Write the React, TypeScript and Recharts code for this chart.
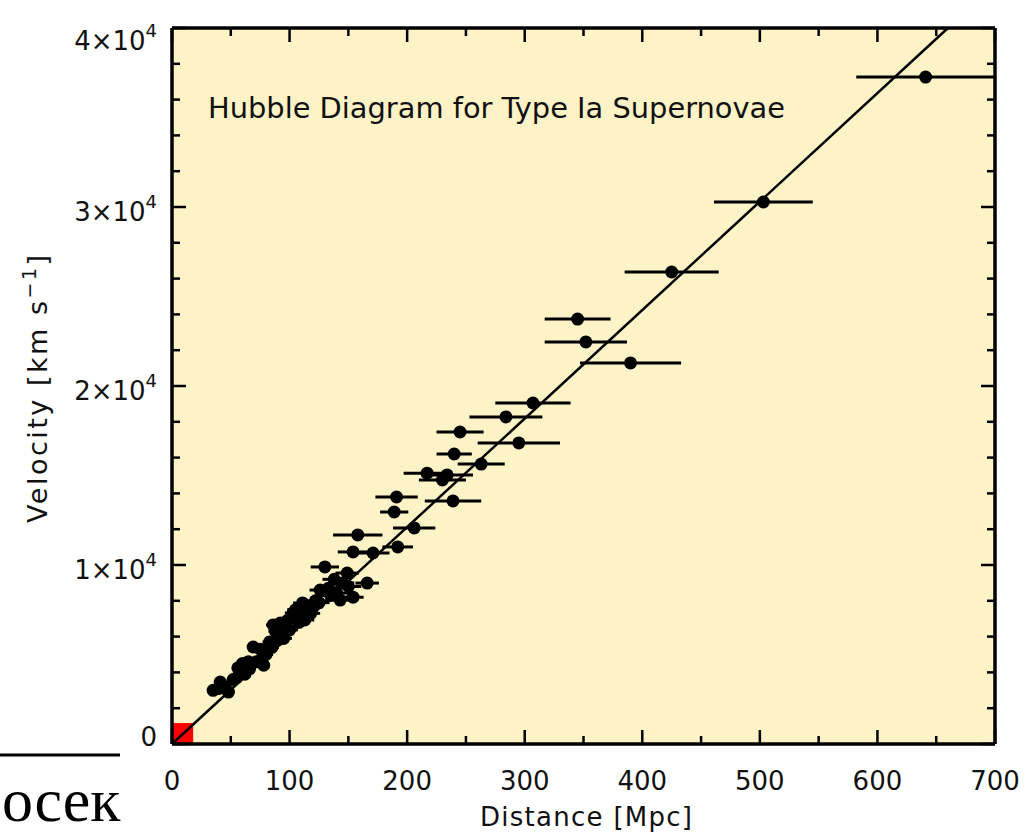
import {
  ScatterChart,
  Scatter,
  XAxis,
  YAxis,
  ErrorBar,
  CartesianGrid,
  ReferenceLine,
  ReferenceArea,
} from 'recharts';

// distance [Mpc], velocity [km/s] and distance error bar half-width [Mpc]
const distance = [
  641, 503, 425, 345, 352, 390, 307, 284, 295, 245,
  240, 263, 217, 234, 230, 191, 239, 189, 206, 158,
  154, 171, 192, 130, 166, 149, 140, 126, 143, 154,
  120, 111, 103, 113, 105, 96, 92, 100, 86, 85,
  76, 69, 56, 62, 41, 35, 48, 80, 72, 60,
  52, 45, 66, 90, 95, 108, 118, 125, 135, 145,
  150, 40, 55, 65, 75, 83, 88, 98, 110, 115,
  122, 133, 138, 78,
];
const velocity = [
  37260, 30280, 26370, 23740, 22460, 21290, 19050, 18270, 16820, 17430,
  16200, 15640, 15130, 15030, 14750, 13800, 13580, 12960, 12070, 11680,
  10730, 10670, 11010, 9890, 8990, 9550, 8430, 8600, 8040, 8200,
  7650, 7880, 7320, 6930, 7500, 6200, 6760, 6370, 6650, 5400,
  4700, 5420, 4250, 3900, 3460, 3000, 2900, 5000, 4600, 4500,
  3600, 3200, 4200, 5800, 5900, 6800, 7300, 7900, 8300, 9000,
  8800, 3100, 3700, 4600, 5300, 5700, 6300, 6900, 7200, 7700,
  8000, 8700, 9200, 4400,
];
const distErr = [
  59, 42, 40, 28, 35, 43, 32, 31, 35, 20,
  15, 20, 20, 22, 20, 18, 24, 12, 18, 21,
  13, 14, 13, 12, 10, 10, 10, 9, 10, 9,
  8, 8, 7, 8, 7, 7, 7, 7, 6, 6,
  5, 5, 4, 4, 3, 3, 3, 6, 5, 4,
  4, 3, 5, 6, 7, 8, 8, 9, 10, 10,
  11, 3, 4, 5, 5, 6, 6, 7, 8, 8,
  9, 10, 10, 5,
];

// fitted Hubble line end points
const fitLine = [
  { d: 0, v: 0 },
  { d: 660, v: 40000 },
];
// red marker in the corner (local volume)
const localBox = { d: 18, v: 1170 };

const xMajor = [0, 100, 200, 300, 400, 500, 600, 700];
const xTicks = [0, 50, 100, 150, 200, 250, 300, 350, 400, 450, 500, 550, 600, 650, 700];
const yMajor = [0, 10000, 20000, 30000, 40000];
const yTicks = [
  0, 2000, 4000, 6000, 8000, 10000, 12000, 14000, 16000, 18000, 20000,
  22000, 24000, 26000, 28000, 30000, 32000, 34000, 36000, 38000, 40000,
];

const points = distance.map((d, i) => ({ d, v: velocity[i], err: distErr[i] }));

const FONT = 'DejaVu Sans';
const BG = '#FDF3C7';

const BottomTick = (props: any) => {
  const { x, y, payload } = props;
  const major = xMajor.includes(payload.value);
  return (
    <g>
      <line x1={x} y1={y} x2={x} y2={y - (major ? 14 : 8)} stroke="#000" strokeWidth={2.5} />
      {major && (
        <text x={x} y={y + 46} textAnchor="middle" fontSize={26} fontFamily={FONT} fill="#111">
          {payload.value}
        </text>
      )}
    </g>
  );
};

const TopTick = (props: any) => {
  const { x, y, payload } = props;
  const major = xMajor.includes(payload.value);
  return <line x1={x} y1={y} x2={x} y2={y + (major ? 14 : 8)} stroke="#000" strokeWidth={2.5} />;
};

const LeftTick = (props: any) => {
  const { x, y, payload } = props;
  const v = payload.value;
  const major = yMajor.includes(v);
  const base = Math.min(Math.max(y + 14, 50), 746);
  return (
    <g>
      <line x1={x} y1={y} x2={x + (major ? 14 : 8)} y2={y} stroke="#000" strokeWidth={2.5} />
      {major && (
        <text x={x - 15} y={base} textAnchor="end" fontSize={26} fontFamily={FONT} fill="#111">
          {v === 0 ? (
            '0'
          ) : (
            <>
              {`${v / 10000}×10`}
              <tspan dy={-13} fontSize={18}>4</tspan>
            </>
          )}
        </text>
      )}
    </g>
  );
};

const RightTick = (props: any) => {
  const { x, y, payload } = props;
  const major = yMajor.includes(payload.value);
  return <line x1={x} y1={y} x2={x - (major ? 14 : 8)} y2={y} stroke="#000" strokeWidth={2.5} />;
};

const frame = { stroke: '#000', strokeWidth: 3.5 };

export default function App() {
  return (
    <div style={{ position: 'absolute', left: 0, top: 0, width: 1032, height: 837, background: '#fff' }}>
      <svg
        width={1032}
        height={837}
        style={{ position: 'absolute', left: 0, top: 0, pointerEvents: 'none' }}
      >
        <line x1={0} y1={755} x2={120} y2={755} stroke="#000" strokeWidth={3} />
        <text x={2} y={821} fontSize={62} fontFamily="Liberation Serif" fill="#000">
          осек
        </text>
      </svg>
      <div style={{ position: 'absolute', left: 0, top: 0 }}>
        <ScatterChart width={1032} height={837} margin={{ top: 27, right: 36, bottom: 0, left: 0 }}>
          <CartesianGrid fill={BG} horizontal={false} vertical={false} />
          <ReferenceArea
            x1={0}
            x2={localBox.d}
            y1={0}
            y2={localBox.v}
            fill="#ff0000"
            fillOpacity={1}
            stroke="none"
          />
          <XAxis
            type="number"
            dataKey="d"
            domain={[0, 700]}
            ticks={xTicks}
            interval={0}
            height={93}
            tickSize={0}
            tickMargin={0}
            tickLine={false}
            axisLine={frame}
            tick={<BottomTick />}
          />
          <XAxis
            xAxisId="top"
            orientation="top"
            type="number"
            dataKey="d"
            domain={[0, 700]}
            ticks={xTicks}
            interval={0}
            height={1}
            tickSize={0}
            tickMargin={0}
            tickLine={false}
            axisLine={frame}
            tick={<TopTick />}
          />
          <YAxis
            type="number"
            dataKey="v"
            domain={[0, 40000]}
            ticks={yTicks}
            interval={0}
            width={172}
            tickSize={0}
            tickMargin={0}
            tickLine={false}
            axisLine={frame}
            tick={<LeftTick />}
          />
          <YAxis
            yAxisId="right"
            orientation="right"
            type="number"
            dataKey="v"
            domain={[0, 40000]}
            ticks={yTicks}
            interval={0}
            width={1}
            tickSize={0}
            tickMargin={0}
            tickLine={false}
            axisLine={frame}
            tick={<RightTick />}
          />
          <ReferenceLine
            segment={[
              { x: fitLine[0].d, y: fitLine[0].v },
              { x: fitLine[1].d, y: fitLine[1].v },
            ]}
            stroke="#000"
            strokeWidth={2.5}
          />
          {/* invisible series so the top and right frame axes are drawn */}
          <Scatter
            data={fitLine}
            dataKey="v"
            xAxisId="top"
            yAxisId="right"
            isAnimationActive={false}
            shape={() => <g />}
          />
          <Scatter
            data={points}
            isAnimationActive={false}
            shape={(p: any) => <circle cx={p.cx} cy={p.cy} r={6.5} fill="#000" />}
          >
            <ErrorBar dataKey="err" direction="x" width={0} stroke="#000" strokeWidth={3} isAnimationActive={false} />
          </Scatter>
          <text
            x={208}
            y={118}
            fontSize={28}
            fontFamily={FONT}
            fill="#111"
            textLength={577}
            lengthAdjust="spacingAndGlyphs"
          >
            Hubble Diagram for Type Ia Supernovae
          </text>
          <text x={586} y={826} textAnchor="middle" fontSize={26} fontFamily={FONT} fill="#111" textLength={212}>
            Distance [Mpc]
          </text>
          <text
            transform="rotate(-90)"
            x={-389}
            y={47}
            textAnchor="middle"
            fontSize={27}
            fontFamily={FONT}
            fill="#111"
            textLength={268}
          >
            Velocity [km s<tspan dy={-11} fontSize={19}>−1</tspan>
            <tspan dy={11}>]</tspan>
          </text>
        </ScatterChart>
      </div>
    </div>
  );
}
